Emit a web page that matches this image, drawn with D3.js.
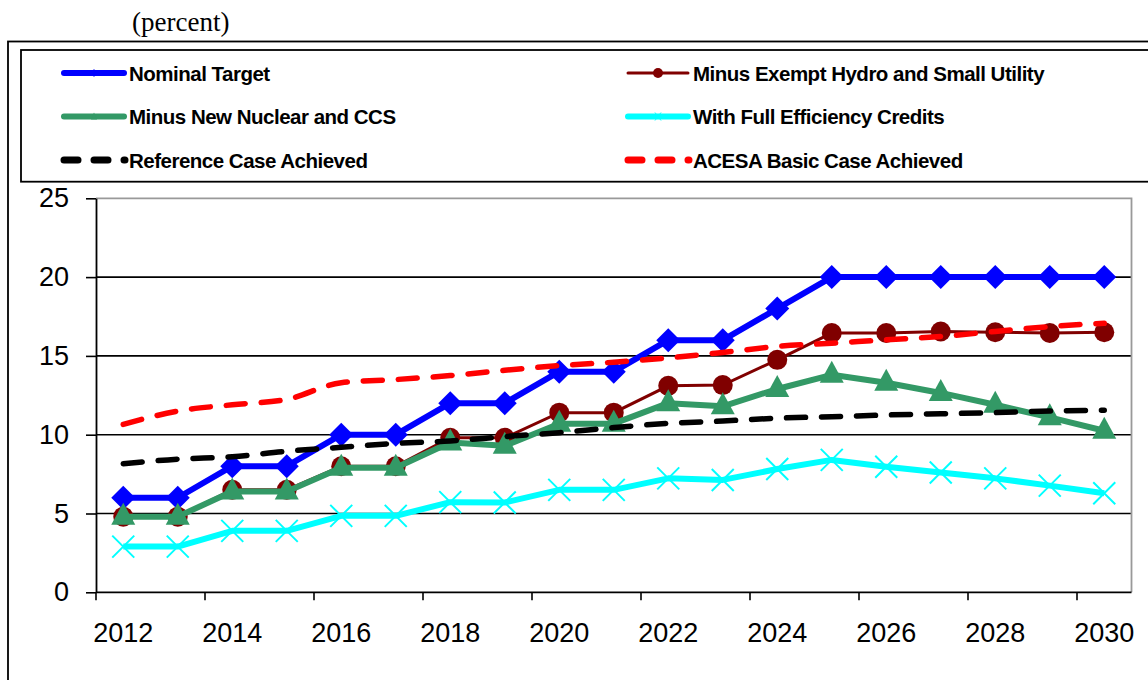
<!DOCTYPE html>
<html><head><meta charset="utf-8">
<script src="https://cdn.jsdelivr.net/npm/d3@7"></script>
<style>
html,body{margin:0;padding:0;background:#fff;}
svg{display:block;}
</style></head>
<body>
<svg id="chart" width="1148" height="680"></svg>
<script>
const years = [2012,2013,2014,2015,2016,2017,2018,2019,2020,2021,2022,2023,2024,2025,2026,2027,2028,2029,2030];
const tickLabels = ["2012","2014","2016","2018","2020","2022","2024","2026","2028","2030"];
const yTicks = [0,5,10,15,20,25];

const nominalTarget   = [6,6,8,8,10,10,12,12,14,14,16,16,18,20,20,20,20,20,20];
const minusHydro      = [4.8,4.8,6.5,6.5,8.0,8.0,9.8,9.8,11.4,11.4,13.1,13.15,14.75,16.45,16.45,16.55,16.5,16.45,16.5];
const minusNuclear    = [4.8,4.8,6.4,6.4,7.9,7.9,9.5,9.3,10.7,10.7,12.0,11.8,12.9,13.8,13.3,12.65,11.9,11.1,10.25];
const fullEfficiency  = [2.9,2.9,3.9,3.9,4.85,4.85,5.72,5.7,6.5,6.5,7.23,7.13,7.82,8.4,7.97,7.6,7.23,6.77,6.28];
const referenceCase   = [8.15,8.45,8.6,8.95,9.2,9.45,9.6,9.88,10.13,10.45,10.72,10.87,11.05,11.14,11.25,11.33,11.4,11.5,11.55];
const acesaBasic      = [10.65,11.5,11.9,12.24,13.3,13.5,13.75,14.09,14.38,14.6,14.87,15.22,15.6,15.81,16.02,16.23,16.55,16.86,17.07];

const seriesNames = ["Nominal Target","Minus Exempt Hydro and Small Utility","Minus New Nuclear and CCS","With Full Efficiency Credits","Reference Case  Achieved","ACESA Basic Case Achieved"];

const svg = d3.select("#chart");

// outer frame and title
svg.append("rect").attr("x",8).attr("y",41.5).attr("width",1160).attr("height",660)
  .attr("fill","none").attr("stroke","#000").attr("stroke-width",1.8);
svg.append("text").attr("x",132).attr("y",31).attr("font-family","Liberation Serif, Times New Roman, serif")
  .attr("font-size",27).attr("fill","#000").text("(percent)");

const x = d3.scaleBand().domain(years).range([96,1131.5]).padding(0);
const y = d3.scaleLinear().domain([0,25]).range([592.3,198.3]);
const cx = d => x(d) + x.bandwidth()/2;

// gridlines
svg.append("g").selectAll("line").data(yTicks.filter(v=>v>0 && v<25)).join("line")
  .attr("x1",96).attr("x2",1131.5).attr("y1",d=>y(d)).attr("y2",d=>y(d))
  .attr("stroke","#000").attr("stroke-width",1.6);
// plot border (gray top and right)
svg.append("path").attr("d",`M96,${y(25)}H1131.5V${y(0)}`).attr("fill","none")
  .attr("stroke","#999").attr("stroke-width",1.8);

// y axis
const yAxis = svg.append("g").attr("transform","translate(96,0)")
  .call(d3.axisLeft(y).tickValues(yTicks).tickSize(10).tickSizeOuter(0).tickPadding(17));
yAxis.select(".domain").attr("stroke","#000").attr("stroke-width",1.8);
yAxis.selectAll(".tick line").attr("stroke","#000").attr("stroke-width",1.6);
yAxis.selectAll("text").attr("font-family","Liberation Sans, Arial, sans-serif").attr("font-size",27).attr("fill","#000");

// x axis: ticks every 2 category boundaries, labels under even categories
const xg = svg.append("g");
xg.append("line").attr("x1",96).attr("x2",1131.5).attr("y1",y(0)).attr("y2",y(0)).attr("stroke","#000").attr("stroke-width",1.8);
const tickYears = years.filter((d,i)=>i%2===0);
xg.selectAll("line.tk").data(tickYears).join("line").attr("class","tk")
  .attr("x1",d=>x(d)).attr("x2",d=>x(d)).attr("y1",y(0)).attr("y2",y(0)+8)
  .attr("stroke","#000").attr("stroke-width",1.6);
xg.selectAll("text").data(tickLabels).join("text")
  .attr("x",d=>cx(+d)).attr("y",641.5).attr("text-anchor","middle")
  .attr("font-family","Liberation Sans, Arial, sans-serif").attr("font-size",27).attr("fill","#000")
  .text(d=>d);

const line = d3.line().x((d,i)=>cx(years[i])).y(d=>y(d));
const smooth = d3.line().x((d,i)=>cx(years[i])).y(d=>y(d)).curve(d3.curveMonotoneX);

const plot = svg.append("g");

// Nominal Target
plot.append("path").datum(nominalTarget).attr("d",line).attr("fill","none")
  .attr("stroke","#0000ff").attr("stroke-width",6).attr("stroke-linejoin","round");
plot.append("g").selectAll("path").data(nominalTarget).join("path")
  .attr("transform",(d,i)=>`translate(${cx(years[i])},${y(d)})`)
  .attr("d",`M0,-12L12,0L0,12L-12,0Z`).attr("fill","#0000ff");

// Minus Exempt Hydro
plot.append("path").datum(minusHydro).attr("d",line).attr("fill","none")
  .attr("stroke","#800000").attr("stroke-width",3);
plot.append("g").selectAll("circle").data(minusHydro).join("circle")
  .attr("cx",(d,i)=>cx(years[i])).attr("cy",d=>y(d)).attr("r",10).attr("fill","#800000");

// Minus New Nuclear
plot.append("path").datum(minusNuclear).attr("d",line).attr("fill","none")
  .attr("stroke","#339966").attr("stroke-width",6).attr("stroke-linejoin","round");
plot.append("g").selectAll("path").data(minusNuclear).join("path")
  .attr("transform",(d,i)=>`translate(${cx(years[i])},${y(d)})`)
  .attr("d",`M0,-14L12,8L-12,8Z`).attr("fill","#339966");

// With Full Efficiency
plot.append("path").datum(fullEfficiency).attr("d",line).attr("fill","none")
  .attr("stroke","#00ffff").attr("stroke-width",6).attr("stroke-linejoin","round");
plot.append("g").selectAll("path").data(fullEfficiency).join("path")
  .attr("transform",(d,i)=>`translate(${cx(years[i])},${y(d)})`)
  .attr("d",`M-11,-11L11,11M11,-11L-11,11`).attr("stroke","#00ffff").attr("stroke-width",2);

// Reference Case
plot.append("path").datum(referenceCase).attr("d",smooth).attr("fill","none")
  .attr("stroke","#000").attr("stroke-width",5.5).attr("stroke-linecap","round")
  .attr("stroke-dasharray","19,16");

// ACESA
plot.append("path").datum(acesaBasic).attr("d",smooth).attr("fill","none")
  .attr("stroke","#ff0000").attr("stroke-width",5.5).attr("stroke-linecap","round")
  .attr("stroke-dasharray","19,16");

// legend
const lg = svg.append("g");
lg.append("rect").attr("x",21).attr("y",50).attr("width",1150).attr("height",131.7)
  .attr("fill","#fff").attr("stroke","#000").attr("stroke-width",1.8);
const legendItems = [
  {name:seriesNames[0], col:0, row:0, color:"#0000ff", w:6, type:"diamond"},
  {name:seriesNames[1], col:1, row:0, color:"#800000", w:3, type:"circle"},
  {name:seriesNames[2], col:0, row:1, color:"#339966", w:6, type:"triangle"},
  {name:seriesNames[3], col:1, row:1, color:"#00ffff", w:6, type:"x"},
  {name:seriesNames[4], col:0, row:2, color:"#000", w:5.5, type:"dash"},
  {name:seriesNames[5], col:1, row:2, color:"#ff0000", w:5.5, type:"dash"}
];
const rowY = [73, 116.5, 160];
const colX = [62, 626];
legendItems.forEach(it=>{
  const g = lg.append("g").attr("transform",`translate(${colX[it.col]},${rowY[it.row]})`);
  if(it.type==="dash"){
    g.append("line").attr("x1",2).attr("x2",63).attr("y1",0).attr("y2",0)
      .attr("stroke",it.color).attr("stroke-width",7).attr("stroke-linecap","round")
      .attr("stroke-dasharray","14,16");
  } else {
    g.append("line").attr("x1",2).attr("x2",62).attr("y1",0).attr("y2",0)
      .attr("stroke",it.color).attr("stroke-width",it.w).attr("stroke-linecap","round");
    if(it.type==="circle") g.append("circle").attr("cx",32).attr("cy",0).attr("r",5).attr("fill",it.color);
    if(it.type==="diamond") g.append("path").attr("d","M32,-4L35,0L32,4L29,0Z").attr("fill",it.color);
    if(it.type==="triangle") g.append("path").attr("d","M32,-4L35,3L29,3Z").attr("fill",it.color);
    if(it.type==="x") g.append("path").attr("d","M29,-4L35,4M35,-4L29,4").attr("stroke",it.color).attr("stroke-width",1);
  }
  g.append("text").attr("x",67).attr("y",7.5).attr("font-family","Liberation Sans, Arial, sans-serif")
    .attr("font-weight","bold").attr("font-size",20.5).attr("letter-spacing",-0.5).attr("fill","#000").text(it.name);
});
</script>
</body></html>
